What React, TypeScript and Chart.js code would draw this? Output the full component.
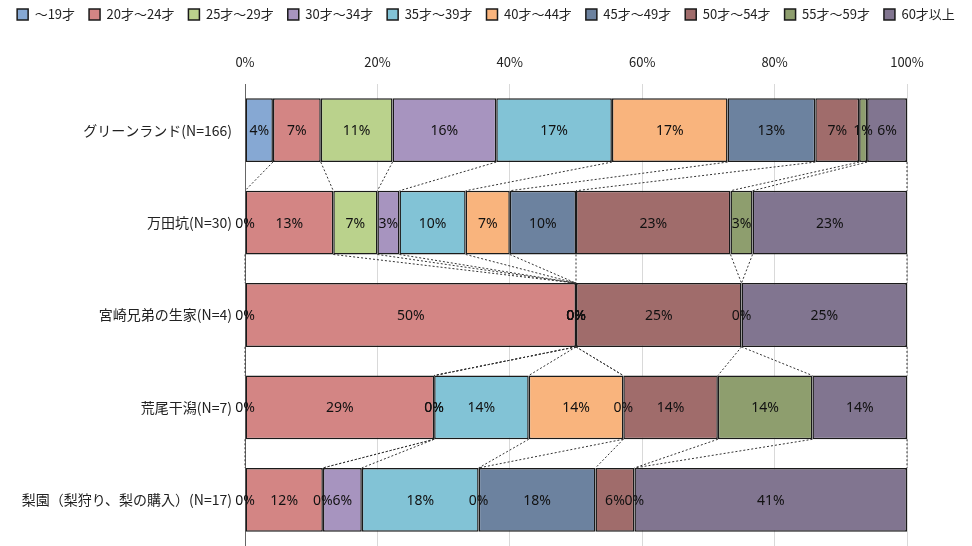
import React, { useEffect, useRef } from "react";
import { Chart, registerables } from "chart.js";

Chart.register(...registerables);

const categories = [
  "グリーンランド(N=166)",
  "万田坑(N=30)",
  "宮崎兄弟の生家(N=4)",
  "荒尾干潟(N=7)",
  "梨園（梨狩り、梨の購入）(N=17)",
];
const sampleSizes = [166, 30, 4, 7, 17];

const seriesNames = [
  "～19才",
  "20才～24才",
  "25才～29才",
  "30才～34才",
  "35才～39才",
  "40才～44才",
  "45才～49才",
  "50才～54才",
  "55才～59才",
  "60才以上",
];

// respondent counts per category (same order as categories)
const age19 = [7, 0, 0, 0, 0];
const age20to24 = [12, 4, 2, 2, 2];
const age25to29 = [18, 2, 0, 0, 0];
const age30to34 = [26, 1, 0, 0, 1];
const age35to39 = [29, 3, 0, 1, 3];
const age40to44 = [29, 2, 0, 1, 0];
const age45to49 = [22, 3, 0, 0, 3];
const age50to54 = [11, 7, 1, 1, 1];
const age55to59 = [2, 1, 0, 1, 0];
const age60plus = [10, 7, 1, 1, 7];

const seriesCounts = [
  age19, age20to24, age25to29, age30to34, age35to39,
  age40to44, age45to49, age50to54, age55to59, age60plus,
];

const seriesColors = [
  "#86a8d3",
  "#d38584",
  "#bad28c",
  "#a794bf",
  "#82c3d6",
  "#f9b47d",
  "#6c829f",
  "#a06c6b",
  "#8e9e6e",
  "#817590",
];

const xTicks = [0, 20, 40, 60, 80, 100];

const FONT = "'Noto Sans CJK JP', 'Noto Sans', sans-serif";
const LABEL_FONT = "'Liberation Sans Narrow', 'Noto Sans', sans-serif";
const TOP_PAD = -6;
const PLOT_TOP = 84;

const seriesLinesPlugin = {
  id: "seriesLines",
  afterDatasetsDraw(chart: any) {
    const ctx = chart.ctx;
    ctx.save();
    ctx.setLineDash([2, 2]);
    ctx.strokeStyle = "#333";
    ctx.lineWidth = 1;
    chart.data.datasets.forEach((_: any, d: number) => {
      const meta = chart.getDatasetMeta(d);
      for (let j = 0; j < meta.data.length - 1; j++) {
        const a = meta.data[j];
        const b = meta.data[j + 1];
        ctx.beginPath();
        ctx.moveTo(a.x, a.y + a.height / 2);
        ctx.lineTo(b.x, b.y - b.height / 2);
        ctx.stroke();
      }
    });
    ctx.restore();
  },
};

const dataLabelsPlugin = {
  id: "segLabels",
  afterDatasetsDraw(chart: any) {
    const ctx = chart.ctx;
    ctx.save();
    ctx.font = `14px ${LABEL_FONT}`;
    ctx.fillStyle = "#111";
    ctx.textAlign = "center";
    ctx.textBaseline = "middle";
    chart.data.datasets.forEach((ds: any, d: number) => {
      const meta = chart.getDatasetMeta(d);
      meta.data.forEach((el: any, j: number) => {
        const v = ds.data[j];
        const txt = Math.round(v) + "%";
        ctx.fillText(txt, (el.x + el.base) / 2, el.y + 1);
      });
    });
    ctx.restore();
  },
};

export default function App() {
  const ref = useRef<HTMLCanvasElement | null>(null);

  useEffect(() => {
    document.body.style.margin = "0";
    const datasets = seriesNames.map((name, i) => ({
      label: name,
      data: seriesCounts[i].map((c, j) => (c / sampleSizes[j]) * 100),
      backgroundColor: seriesColors[i],
      borderColor: "#1a1a1a",
      borderWidth: 1.5,
      borderSkipped: false,
      barPercentage: 1,
      categoryPercentage: 0.69,
    }));

    const chart = new Chart(ref.current as HTMLCanvasElement, {
      type: "bar",
      data: { labels: categories, datasets },
      plugins: [seriesLinesPlugin, dataLabelsPlugin],
      options: {
        indexAxis: "y",
        animation: false,
        responsive: false,
        layout: { padding: { left: 0, right: 0, top: TOP_PAD, bottom: 0 } },
        plugins: {
          legend: {
            position: "top",
            labels: {
              boxWidth: 11,
              boxHeight: 11,
              padding: 14,
              color: "#222",
              font: { family: FONT, size: 13 },
            },
          },
          tooltip: { enabled: false },
        },
        scales: {
          x: {
            position: "top",
            stacked: true,
            min: 0,
            max: 100,
            afterBuildTicks(scale: any) {
              scale.ticks = xTicks.map((v) => ({ value: v }));
            },
            afterFit(scale: any) {
              const lh = scale.chart.legend && scale.chart.legend.height ? scale.chart.legend.height : 41;
              scale.height = PLOT_TOP - TOP_PAD - lh;
            },
            ticks: {
              callback: (v: any) => v + "%",
              color: "#222",
              font: { family: FONT, size: 13 },
              padding: 14,
            },
            grid: { color: "#d9d9d9", drawTicks: false, lineWidth: 1 },
            border: { display: false },
          },
          y: {
            stacked: true,
            afterFit(scale: any) {
              scale.width = 245;
              scale.paddingTop = 0;
              scale.paddingBottom = 0;
            },
            ticks: {
              color: "#222",
              font: { family: FONT, size: 14 },
              padding: 13,
            },
            grid: { display: false, drawTicks: false },
            border: { display: true, color: "#666", width: 1 },
          },
          yRight: {
            position: "right",
            afterFit(scale: any) {
              scale.width = 65;
              scale.paddingTop = 0;
              scale.paddingBottom = 0;
            },
            ticks: { display: false },
            grid: { display: false, drawTicks: false },
            border: { display: false },
          },
        },
      },
    });
    return () => chart.destroy();
  }, []);

  return (
    <div style={{ width: 972, height: 546 }}>
      <canvas ref={ref} width={972} height={546} style={{ display: "block" }} />
    </div>
  );
}
